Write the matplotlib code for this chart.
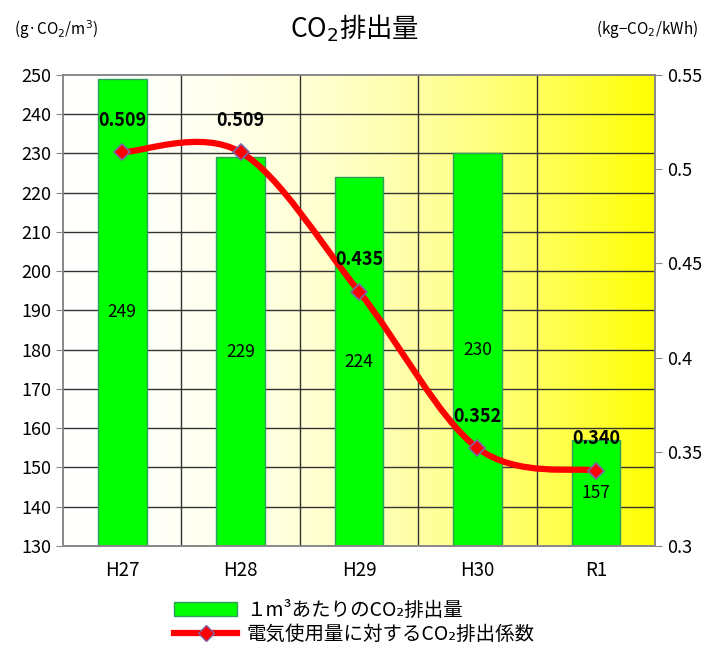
import numpy as np
import matplotlib.pyplot as plt
from matplotlib.path import Path
from matplotlib.patches import PathPatch
from matplotlib.lines import Line2D
from matplotlib.patches import Patch

plt.rcParams["font.family"] = ["Noto Sans CJK JP", "DejaVu Sans"]

categories = ["H27", "H28", "H29", "H30", "R1"]
co2_per_m3 = [249, 229, 224, 230, 157]
co2_factor = [0.509, 0.509, 0.435, 0.352, 0.340]

fig = plt.figure(figsize=(7.09, 6.48), dpi=100)
ax = fig.add_axes([0.0889, 0.1574, 0.835, 0.7269])
ax2 = ax.twinx()

x = np.arange(len(categories))
ax.set_xlim(-0.5, len(categories) - 0.5)
ax.set_ylim(130, 250)
ax2.set_ylim(0.3, 0.55)

# background gradient white -> yellow
t = np.linspace(0, 1, 400)
grad = np.ones((1, 400, 3))
grad[0, :, 2] = 1 - t ** 2
ax.imshow(grad, extent=[-0.5, len(categories) - 0.5, 130, 250], aspect="auto", zorder=0)

# grid
for yv in range(140, 250, 10):
    ax.axhline(yv, color="#333333", lw=1.0, zorder=1)
for xv in np.arange(0.5, len(categories) - 0.5, 1):
    ax.axvline(xv, color="#333333", lw=1.0, zorder=1)

ax.bar(x, np.array(co2_per_m3) - 130, bottom=130, width=0.41,
       color="#00FF00", edgecolor="#2E9E5A", lw=1.0, zorder=2)
for xi, v in zip(x, co2_per_m3):
    ax.text(xi, (v + 130) / 2, str(v), ha="center", va="center", fontsize=12.5, zorder=3)

ax.set_xticks(x)
ax.set_xticklabels(categories, fontsize=13.5)
ax.set_yticks(range(130, 251, 10))
ax.tick_params(axis="y", labelsize=13, color="#888888", length=5)
ax.tick_params(axis="x", length=0, pad=10)
ax2.set_yticks([0.3, 0.35, 0.4, 0.45, 0.5, 0.55])
ax2.set_yticklabels(["0.3", "0.35", "0.4", "0.45", "0.5", "0.55"])
ax2.tick_params(axis="y", labelsize=13, color="#888888", length=5)
for a in (ax, ax2):
    for s in a.spines.values():
        s.set_color("#888888")
        s.set_linewidth(1.2)

# smooth line (Catmull-Rom style bezier through the points)
pts = np.column_stack([x, co2_factor]).astype(float)
verts = [tuple(pts[0])]
codes = [Path.MOVETO]
tension = 1 / 6
for i in range(len(pts) - 1):
    p0 = pts[i - 1] if i > 0 else pts[i]
    p1 = pts[i]
    p2 = pts[i + 1]
    p3 = pts[i + 2] if i + 2 < len(pts) else pts[i + 1]
    c1 = p1 + (p2 - p0) * tension
    c2 = p2 - (p3 - p1) * tension
    verts += [tuple(c1), tuple(c2), tuple(p2)]
    codes += [Path.CURVE4] * 3
ax2.add_patch(PathPatch(Path(verts, codes), fill=False, edgecolor="#FF0000", lw=4.5,
                        capstyle="round", zorder=4))
ax2.plot(x, co2_factor, ls="none", marker="D", ms=8, mfc="#FF0000", mec="#8064A2",
         mew=1.2, zorder=5)
for xi, v in zip(x, co2_factor):
    ax2.text(xi, v + 0.017, f"{v:.3f}", ha="center", va="center", fontsize=13,
             fontweight="bold", zorder=6)

fig.text(0.5, 0.957, "CO$_2$排出量", ha="center", va="center", fontsize=19)
fig.text(0.02, 0.955, "(g·CO$_2$/m$^3$)", ha="left", va="center", fontsize=11)
fig.text(0.985, 0.955, "(kg−CO$_2$/kWh)", ha="right", va="center", fontsize=11)

handles = [
    Patch(facecolor="#00FF00", edgecolor="#2E9E5A"),
    Line2D([], [], color="#FF0000", lw=4.5, marker="D", ms=8, mfc="#FF0000", mec="#8064A2"),
]
labels = ["１m³あたりのCO₂排出量", "電気使用量に対するCO₂排出係数"]
fig.legend(handles, labels, loc="center", bbox_to_anchor=(0.5, 0.04), frameon=False,
           fontsize=14, handlelength=3.2, handleheight=0.7, labelspacing=0.15,
           handletextpad=0.5)

fig.savefig("out.png", dpi=100)
